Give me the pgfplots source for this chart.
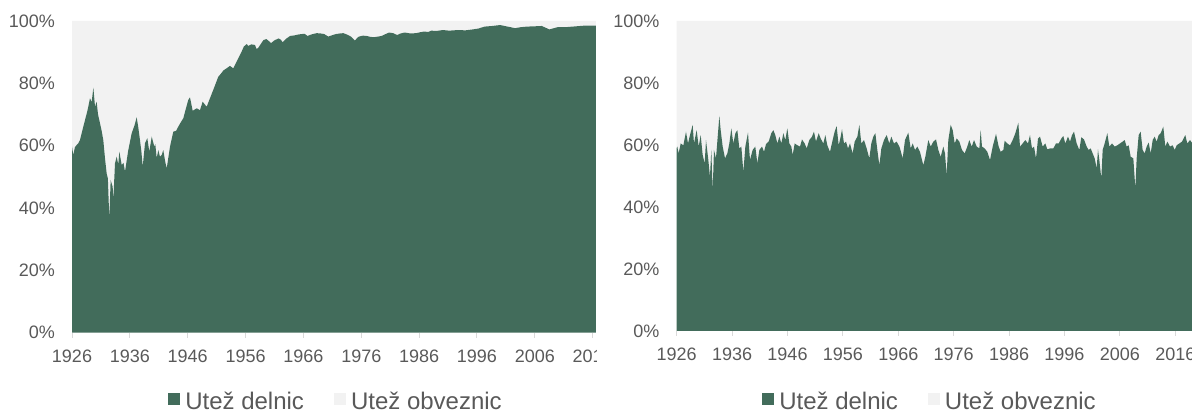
\documentclass[border=0pt]{standalone}
\usepackage{pgfplots}
\pgfplotsset{compat=1.18}
\usepackage{pgfplotstable}
\usepackage{fontspec}
\setmainfont{Liberation Sans}
\definecolor{stockgreen}{RGB}{66,108,91}
\definecolor{bondgray}{RGB}{242,242,242}
\definecolor{axisgray}{RGB}{217,217,217}
\definecolor{textgray}{RGB}{89,89,89}

\pgfplotstableread{
year s
1926.00 59.7
1926.23 57.0
1926.50 59.5
1926.80 60.2
1927.10 60.8
1927.38 61.8
1927.80 65.0
1928.25 68.2
1928.70 71.5
1929.11 75.2
1929.40 74.0
1929.69 78.6
1929.98 72.5
1930.26 74.1
1930.50 70.0
1930.72 68.2
1931.10 65.0
1931.41 61.8
1931.70 56.0
1931.99 51.1
1932.20 49.5
1932.45 36.4
1932.68 49.0
1933.03 46.8
1933.14 42.6
1933.43 54.3
1933.72 56.5
1934.00 54.0
1934.18 58.1
1934.59 53.8
1934.90 54.5
1935.16 51.7
1935.73 58.6
1936.32 64.0
1936.80 66.5
1937.18 69.1
1937.45 66.0
1937.75 61.8
1938.00 58.0
1938.22 53.3
1938.62 60.8
1939.02 62.4
1939.36 58.1
1939.78 62.9
1940.23 59.7
1940.40 60.5
1940.64 56.0
1940.92 58.6
1941.20 56.5
1941.50 57.0
1941.78 58.6
1942.10 55.0
1942.37 52.7
1942.94 59.7
1943.51 64.5
1944.00 64.8
1944.37 66.1
1944.80 67.5
1945.24 68.8
1945.70 72.0
1946.10 74.7
1946.39 75.5
1946.86 71.2
1947.55 72.0
1948.12 71.4
1948.58 74.1
1949.28 72.5
1949.80 75.0
1950.42 77.9
1951.28 82.1
1951.70 83.0
1952.15 84.1
1952.70 84.8
1953.31 85.6
1953.88 84.8
1954.60 87.5
1955.33 90.2
1955.70 91.8
1956.20 92.6
1956.47 92.0
1957.00 92.5
1957.63 92.3
1957.90 91.0
1958.20 91.4
1958.70 92.8
1959.10 93.9
1959.60 94.2
1960.00 93.6
1960.40 92.9
1961.00 93.8
1961.70 94.4
1962.10 94.0
1962.40 93.2
1963.00 94.3
1963.70 95.2
1964.50 95.4
1965.20 95.7
1965.70 95.8
1966.20 95.9
1966.70 95.2
1967.40 95.7
1968.30 96.1
1969.00 96.0
1969.60 95.8
1970.30 95.0
1970.90 95.4
1971.60 95.8
1972.30 96.0
1972.90 96.1
1973.60 95.6
1974.20 95.0
1974.90 93.7
1975.30 94.6
1975.60 95.0
1976.30 95.3
1976.90 95.2
1977.60 94.9
1978.20 94.8
1978.90 95.0
1979.50 95.2
1980.20 95.8
1980.80 96.3
1981.50 96.1
1982.20 95.5
1982.80 96.0
1983.50 96.3
1984.50 96.0
1985.50 96.1
1986.20 96.4
1986.80 96.6
1987.60 96.5
1988.10 96.9
1989.00 96.8
1990.10 97.1
1991.20 96.9
1992.70 97.1
1994.00 97.0
1995.30 97.3
1996.30 97.6
1997.30 98.2
1998.60 98.4
2000.00 98.7
2001.30 98.2
2002.60 97.7
2003.50 98.0
2004.60 98.2
2006.00 98.3
2007.20 98.4
2008.50 97.3
2009.90 98.0
2011.20 98.0
2012.50 98.2
2014.50 98.5
2017.00 98.5
}\leftdata

\pgfplotstableread{
year s
1926.00 59.0
1926.11 59.5
1926.35 57.3
1926.72 60.5
1927.20 59.9
1927.68 64.3
1928.04 60.5
1928.40 63.2
1928.88 66.5
1929.12 60.5
1929.60 64.8
1929.97 59.5
1930.33 63.2
1930.69 56.8
1931.05 54.1
1931.29 61.6
1931.71 55.2
1932.00 49.8
1932.25 58.4
1932.49 45.3
1932.73 58.4
1933.09 55.7
1933.45 63.8
1933.70 69.4
1933.94 64.8
1934.30 59.5
1934.72 55.7
1935.14 57.3
1935.50 60.5
1935.86 65.4
1936.22 60.5
1936.59 63.8
1936.95 64.8
1937.31 58.9
1937.67 59.5
1938.03 51.4
1938.39 59.5
1938.87 64.0
1939.23 55.2
1939.71 58.4
1940.19 59.5
1940.56 54.1
1940.92 58.4
1941.40 59.5
1941.76 57.8
1942.12 60.3
1942.60 61.1
1943.08 63.8
1943.44 64.8
1943.80 63.2
1944.17 60.5
1944.53 62.7
1944.89 60.5
1945.25 63.8
1945.61 61.6
1945.97 65.4
1946.33 60.5
1946.69 59.5
1946.93 56.8
1947.30 60.5
1947.78 59.9
1948.26 59.5
1948.62 61.8
1949.10 60.5
1949.46 58.9
1949.94 61.6
1950.42 62.7
1950.78 64.3
1951.14 61.1
1951.63 63.8
1951.99 62.1
1952.47 60.5
1952.83 63.2
1953.19 59.9
1953.67 57.8
1954.15 61.6
1954.51 64.3
1954.87 66.1
1955.24 59.9
1955.60 62.7
1955.84 65.1
1956.20 60.5
1956.56 61.1
1956.92 58.9
1957.28 60.5
1957.76 57.3
1958.13 61.1
1958.61 62.7
1958.97 66.5
1959.33 60.5
1959.81 61.6
1960.29 58.9
1960.77 55.7
1961.13 60.5
1961.49 62.7
1961.86 63.8
1962.22 58.4
1962.58 53.5
1962.94 58.9
1963.42 61.6
1963.90 63.2
1964.38 60.5
1964.74 62.7
1965.22 60.5
1965.70 61.1
1966.19 59.5
1966.31 58.9
1966.79 55.7
1967.21 61.6
1967.81 64.0
1968.24 58.9
1968.60 60.5
1969.02 58.4
1969.44 59.5
1969.92 57.8
1970.52 53.5
1970.88 56.2
1971.42 61.6
1971.85 59.5
1972.33 61.1
1972.81 61.8
1973.23 58.4
1973.65 56.2
1974.13 59.5
1974.43 57.3
1974.73 50.3
1975.03 61.6
1975.46 66.5
1975.82 64.8
1976.18 60.5
1976.54 62.1
1977.02 61.1
1977.50 58.4
1977.98 57.3
1978.46 59.5
1978.82 61.6
1979.25 59.5
1979.67 61.6
1980.15 59.5
1980.63 58.9
1980.87 64.8
1981.11 59.5
1981.59 58.9
1982.07 57.8
1982.56 55.2
1983.04 59.5
1983.64 63.6
1984.12 59.5
1984.48 57.8
1984.96 58.4
1985.20 61.4
1985.68 60.5
1986.17 59.9
1986.65 61.6
1987.13 63.8
1987.67 67.2
1987.97 59.5
1988.45 60.5
1988.93 61.6
1989.41 60.5
1989.77 63.2
1990.14 58.9
1990.50 59.5
1990.86 55.7
1991.22 62.1
1991.58 62.7
1992.06 59.5
1992.54 60.5
1992.90 58.6
1993.39 58.9
1993.99 58.9
1994.47 60.5
1994.95 60.5
1995.43 62.1
1995.79 62.9
1996.15 60.5
1996.63 62.7
1997.00 61.1
1997.36 63.2
1997.72 64.3
1998.20 60.5
1998.68 58.4
1999.04 62.5
1999.52 61.8
2000.00 59.5
2000.36 58.4
2000.73 58.9
2001.09 57.3
2001.45 55.7
2001.81 52.5
2002.05 58.6
2002.29 55.2
2002.65 49.2
2002.89 58.4
2003.25 60.5
2003.73 63.8
2004.10 59.5
2004.58 60.5
2005.06 59.5
2005.54 59.9
2006.02 60.5
2006.50 61.1
2006.86 61.6
2007.22 59.5
2007.59 59.9
2007.95 56.2
2008.43 55.7
2008.79 46.0
2009.03 55.7
2009.39 63.2
2009.75 64.3
2010.11 58.4
2010.47 57.3
2010.84 59.5
2011.20 60.8
2011.56 57.3
2011.92 61.6
2012.28 62.7
2012.64 61.1
2013.00 63.2
2013.36 63.8
2013.84 65.9
2014.20 59.5
2014.57 61.1
2015.05 59.5
2015.53 59.9
2015.89 58.4
2016.25 59.9
2016.73 60.5
2017.21 61.1
2017.81 63.2
2018.17 60.5
2018.66 61.6
2019.10 60.5
}\rightdata

\pgfplotsset{
  panel/.style={
    scale only axis,
    anchor=south west,
    ymin=0, ymax=100,
    xmin=1926,
    stack plots=y,
    axis on top,
    axis line style={draw=axisgray, line width=1pt},
    y axis line style={draw=none},
    xtick pos=bottom, ytick pos=left,
    tick align=outside,
    major tick length=5pt,
    xtick style={draw=axisgray, line width=1pt},
    ytick style={draw=none},
    ytick={0,20,40,60,80,100},
    yticklabel={\pgfmathprintnumber{\tick}\%},
    xtick={1926,1936,1946,1956,1966,1976,1986,1996,2006,2016},
    /pgf/number format/1000 sep={},
    /pgf/number format/assume math mode=true,
    ticklabel style={font=\fontsize{18}{20}\selectfont, text=textgray, inner sep=0pt},
    xticklabel style={anchor=north, yshift=-12pt},
    yticklabel style={anchor=east, xshift=-12pt},
    legend style={anchor=center, draw=none, fill=none,
      font=\fontsize{24}{26}\selectfont, text=textgray,
      legend columns=2, nodes={inner sep=0pt},
      /tikz/every even column/.append style={column sep=30pt}},
    legend cell align=left,
    legend image code/.code={\fill[##1] (0pt,-3pt) rectangle (12pt,9pt); \path (17pt,0pt);},
  }
}

\begin{document}
\begin{tikzpicture}
\useasboundingbox (0pt,0pt) rectangle (1192pt,412pt);
\begin{scope}
\clip (0pt,0pt) rectangle (596pt,412pt);
\begin{axis}[panel, at={(72pt,79.3pt)}, width=524pt, height=311.7pt, xmax=2016.57,
  legend style={at={(0.502,-0.222)}}]
\addplot[draw=none, fill=stockgreen] table[x=year, y=s]{\leftdata} \closedcycle;
\addlegendentry{Utež delnic}
\addplot[draw=none, fill=bondgray] table[x=year, y expr=100-\thisrow{s}]{\leftdata} \closedcycle;
\addlegendentry{Utež obveznic}
\end{axis}
\end{scope}
\begin{scope}
\clip (600pt,0pt) rectangle (1192pt,412pt);
\begin{axis}[panel, at={(676.7pt,81pt)}, width=515.3pt, height=310pt, xmax=2019.02,
  legend style={at={(0.4896,-0.229)}}]
\addplot[draw=none, fill=stockgreen] table[x=year, y=s]{\rightdata} \closedcycle;
\addlegendentry{Utež delnic}
\addplot[draw=none, fill=bondgray] table[x=year, y expr=100-\thisrow{s}]{\rightdata} \closedcycle;
\addlegendentry{Utež obveznic}
\end{axis}
\end{scope}
\end{tikzpicture}
\end{document}
